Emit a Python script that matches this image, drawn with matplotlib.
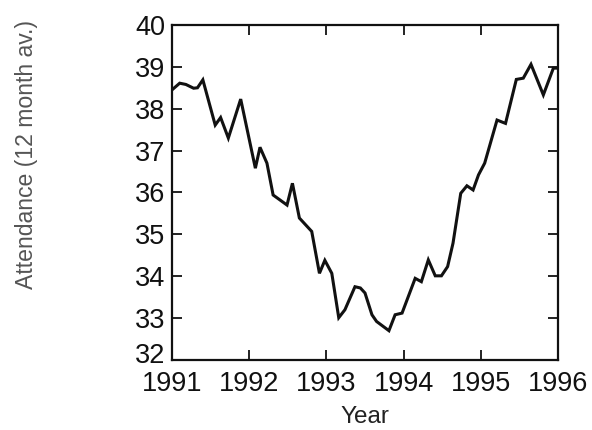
import matplotlib
matplotlib.use("Agg")
import matplotlib.pyplot as plt
from matplotlib.transforms import ScaledTranslation

plt.rcParams['font.family'] = ['Liberation Sans', 'DejaVu Sans']

# (year, 12 month average attendance)
years = [1991.00, 1991.10, 1991.18, 1991.28, 1991.33, 1991.40, 1991.56, 1991.63,
         1991.73, 1991.89, 1992.08, 1992.14, 1992.23, 1992.31, 1992.49, 1992.56,
         1992.65, 1992.81, 1992.91, 1992.98, 1993.07, 1993.16, 1993.24, 1993.37,
         1993.44, 1993.50, 1993.59, 1993.65, 1993.81, 1993.89, 1993.98, 1994.15,
         1994.23, 1994.32, 1994.41, 1994.49, 1994.57, 1994.64, 1994.74, 1994.82,
         1994.90, 1994.97, 1995.05, 1995.21, 1995.32, 1995.46, 1995.55, 1995.65,
         1995.81, 1995.94, 1996.00]
attendance = [38.45, 38.61, 38.58, 38.49, 38.50, 38.69, 37.61, 37.79,
              37.30, 38.23, 36.58, 37.08, 36.70, 35.94, 35.70, 36.22,
              35.39, 35.07, 34.07, 34.38, 34.07, 33.01, 33.20, 33.75,
              33.72, 33.60, 33.08, 32.92, 32.70, 33.08, 33.12, 33.95,
              33.87, 34.39, 34.01, 34.01, 34.23, 34.79, 35.98, 36.16,
              36.06, 36.42, 36.70, 37.73, 37.65, 38.70, 38.73, 39.06,
              38.33, 38.97, 38.97]

year_ticks = [1991, 1992, 1993, 1994, 1995, 1996]
value_ticks = [32, 33, 34, 35, 36, 37, 38, 39, 40]

fig = plt.figure(figsize=(5.92, 4.30), dpi=100, facecolor='white')
ax = fig.add_axes([0.2905, 0.1628, 0.6521, 0.7791])

ax.plot(years, attendance, color='#111111', linewidth=2.2, solid_joinstyle='miter')

ax.set_xlim(1991, 1996)
ax.set_ylim(32, 40)
ax.set_xticks(year_ticks)
ax.set_yticks(value_ticks)
ax.tick_params(direction='in', length=7, width=1.3, top=True, right=True,
               labelsize=19.5, colors='#111111', pad=5)
ax.tick_params(axis='x', pad=8)
for s in ax.spines.values():
    s.set_linewidth(1.6)
    s.set_color('#111111')

# the bottom "32" sits a little above its tick in the reference
fig.canvas.draw()
low = ax.get_yticklabels()[0]
low.set_transform(low.get_transform() + ScaledTranslation(0, 0.07, fig.dpi_scale_trans))

fig.text(0.617, 0.030, 'Year', fontsize=17.5, color='#222222', ha='center', va='center')
fig.text(0.045, 0.640, 'Attendance (12 month av.)', rotation=90, fontsize=16.6,
         color='#555555', ha='center', va='center')

fig.savefig('out.png', dpi=100, facecolor='white')
